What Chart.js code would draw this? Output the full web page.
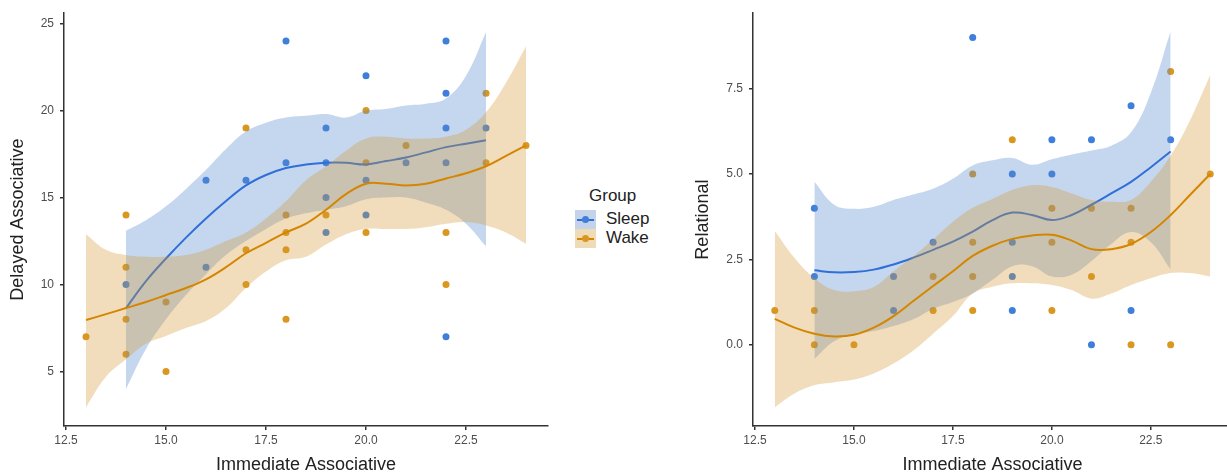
<!DOCTYPE html>
<html>
<head>
<meta charset="utf-8">
<script src="https://cdn.jsdelivr.net/npm/chart.js@4.4.1/dist/chart.umd.min.js"></script>
<style>
  html, body { margin: 0; padding: 0; background: #fff; overflow: hidden; }
  body { width: 1227px; height: 474px; position: relative; font-family: "Liberation Sans", Arial, sans-serif; }
  canvas { position: absolute; top: 0; }
  #left { left: 0; }
  #right { left: 680px; }
  .legend { position: absolute; left: 575px; top: 186px; color: #222; }
  .legend .title { font-size: 17px; margin-left: 14px; height: 24px; }
  .legend .row { position: relative; height: 19px; }
  .legend .key { position: absolute; left: 0; top: 0; width: 21px; height: 19px; }
  .legend .key .ln { position: absolute; left: 2px; right: 2px; top: 8.5px; height: 2px; }
  .legend .key .dot { position: absolute; left: 7px; top: 6px; width: 7px; height: 7px; border-radius: 50%; }
  .legend .lbl { position: absolute; left: 31px; top: -1px; font-size: 17px; line-height: 20px; }
</style>
</head>
<body>
<canvas id="left" width="560" height="474"></canvas>
<canvas id="right" width="556" height="474"></canvas>
<div class="legend">
  <div class="title">Group</div>
  <div class="row"><div class="key" style="background:#c4d3ea"><div class="ln" style="background:#2f6fd8"></div><div class="dot" style="background:#3f7fdb"></div></div><span class="lbl">Sleep</span></div>
  <div class="row"><div class="key" style="background:#efdcb7"><div class="ln" style="background:#d48600"></div><div class="dot" style="background:#d99720"></div></div><span class="lbl">Wake</span></div>
</div>
<script>
// raw points
const sleepImmL = [14, 16, 16, 17, 18, 18, 19, 19, 19, 19, 20, 20, 20, 21, 22, 22, 22, 22, 22, 23];
const sleepDelL = [10, 16, 11, 16, 24, 17, 19, 17, 15, 13, 22, 16, 14, 17, 24, 21, 19, 17, 7, 19];
const wakeImmL = [13, 14, 14, 14, 14, 15, 15, 17, 17, 17, 18, 18, 18, 18, 19, 20, 20, 20, 21, 22, 22, 23, 23, 24];
const wakeDelL = [7, 14, 11, 8, 6, 9, 5, 19, 12, 10, 14, 13, 12, 8, 14, 20, 17, 13, 18, 13, 10, 21, 17, 18];

const sleepImmR = [14, 14, 16, 16, 17, 18, 19, 19, 19, 19, 20, 20, 21, 21, 22, 22, 23];
const sleepRelR = [4, 2, 2, 1, 3, 9, 5, 3, 2, 1, 6, 5, 6, 0, 7, 1, 6];
const wakeImmR = [13, 14, 14, 15, 17, 17, 18, 18, 18, 18, 19, 20, 20, 20, 21, 21, 22, 22, 22, 23, 23, 24];
const wakeRelR = [1, 1, 0, 0, 2, 1, 5, 3, 2, 1, 6, 4, 3, 1, 4, 2, 4, 3, 0, 8, 0, 5];

// loess fits + 95% bands, sampled on a half-unit grid
const gridSleep = [14, 14.5, 15, 15.5, 16, 16.5, 17, 17.5, 18, 18.5, 19, 19.5, 20, 20.5, 21, 21.5, 22, 22.5, 23];
const gridWake = [13, 13.5, 14, 14.5, 15, 15.5, 16, 16.5, 17, 17.5, 18, 18.5, 19, 19.5, 20, 20.5, 21, 21.5, 22, 22.5, 23, 23.5, 24];

const sleepFitL = [8.65, 10.2, 11.5, 12.7, 13.8, 14.8, 15.7, 16.3, 16.7, 16.9, 17.0, 17.0, 16.9, 17.1, 17.3, 17.6, 17.9, 18.1, 18.3];
const sleepLoL = [4.0, 6.3, 8.0, 9.4, 10.6, 11.7, 12.5, 13.2, 13.8, 14.1, 14.3, 14.5, 14.9, 15.0, 15.0, 14.7, 14.3, 13.5, 12.2];
const sleepHiL = [13.1, 13.7, 14.5, 15.5, 16.6, 17.8, 18.8, 19.3, 19.6, 19.7, 19.8, 19.6, 20.0, 20.1, 20.3, 20.4, 20.7, 22.0, 24.5];
const wakeFitL = [7.96, 8.3, 8.65, 9.0, 9.4, 9.8, 10.3, 11.0, 11.8, 12.4, 13.0, 13.5, 14.3, 15.2, 15.8, 15.8, 15.7, 15.8, 16.1, 16.4, 16.8, 17.4, 18.0];
const wakeLoL = [2.95, 4.7, 5.7, 6.6, 7.05, 7.5, 7.9, 8.65, 9.8, 10.75, 11.4, 11.6, 12.3, 12.9, 13.2, 13.2, 13.2, 13.3, 13.5, 13.6, 13.4, 13.0, 12.35];
const wakeHiL = [12.9, 12.0, 11.7, 11.6, 11.6, 11.7, 12.0, 12.5, 13.0, 13.8, 14.8, 16.0, 16.8, 17.7, 18.4, 18.5, 18.4, 18.4, 18.5, 18.9, 19.9, 21.6, 23.7];

const sleepFitR = [2.18, 2.12, 2.13, 2.2, 2.35, 2.55, 2.78, 3.02, 3.31, 3.65, 3.87, 3.8, 3.65, 3.8, 4.1, 4.43, 4.77, 5.2, 5.66];
const sleepLoR = [-0.42, 0.1, 0.3, 0.4, 0.55, 0.75, 1.05, 1.25, 1.5, 1.9, 2.3, 2.3, 2.0, 2.05, 2.45, 2.95, 3.3, 3.0, 2.2];
const sleepHiR = [4.77, 4.1, 3.98, 4.04, 4.24, 4.4, 4.57, 4.86, 5.25, 5.4, 5.47, 5.27, 5.43, 5.57, 5.69, 5.83, 6.22, 7.38, 9.18];
const wakeFitR = [0.76, 0.5, 0.32, 0.24, 0.29, 0.5, 0.84, 1.28, 1.72, 2.15, 2.6, 2.9, 3.1, 3.2, 3.22, 3.05, 2.8, 2.8, 2.95, 3.3, 3.8, 4.4, 5.0];
const wakeLoR = [-1.83, -1.43, -1.19, -1.1, -1.02, -0.84, -0.55, -0.17, 0.32, 0.84, 1.5, 1.7, 1.8, 1.8, 1.75, 1.6, 1.35, 1.5, 1.75, 1.95, 2.1, 2.1, 2.0];
const wakeHiR = [3.33, 2.54, 1.95, 1.6, 1.57, 1.69, 2.15, 2.59, 3.08, 3.6, 4.01, 4.27, 4.53, 4.67, 4.62, 4.43, 4.24, 4.19, 4.24, 4.77, 5.54, 6.6, 7.9];

const xTicks = [12.5, 15, 17.5, 20, 22.5];
const yTicksL = [5, 10, 15, 20, 25];
const yTicksR = [0, 2.5, 5, 7.5];

const SLEEP = { pt: '#3f7fdb', line: '#2f6fd8', band: 'rgba(88,138,208,0.35)' };
const WAKE = { pt: '#d99720', line: '#d48600', band: 'rgba(214,152,48,0.33)' };
const AXIS = '#333333';
const TICK_TEXT = '#4d4d4d';

const pts = (xs, ys) => xs.map((x, i) => ({ x, y: ys[i] }));

function panelDatasets(p) {
  // higher order = drawn first (underneath), like ggplot layer order
  return [
    { data: pts(p.sImm, p.sVal), showLine: false, pointRadius: 3.5, pointBorderWidth: 0,
      pointBackgroundColor: SLEEP.pt, order: 10 },
    { data: pts(p.wImm, p.wVal), showLine: false, pointRadius: 3.5, pointBorderWidth: 0,
      pointBackgroundColor: WAKE.pt, order: 9 },
    { data: pts(gridSleep, p.sLo), pointRadius: 0, borderWidth: 0, borderColor: 'transparent',
      fill: false, tension: 0.4, order: 8 },
    { data: pts(gridSleep, p.sHi), pointRadius: 0, borderWidth: 0, borderColor: 'transparent',
      backgroundColor: SLEEP.band, fill: '-1', tension: 0.4, order: 7 },
    { data: pts(gridSleep, p.sFit), pointRadius: 0, borderWidth: 2, borderColor: SLEEP.line,
      fill: false, tension: 0.4, order: 6 },
    { data: pts(gridWake, p.wLo), pointRadius: 0, borderWidth: 0, borderColor: 'transparent',
      fill: false, tension: 0.4, order: 5 },
    { data: pts(gridWake, p.wHi), pointRadius: 0, borderWidth: 0, borderColor: 'transparent',
      backgroundColor: WAKE.band, fill: '-1', tension: 0.4, order: 4 },
    { data: pts(gridWake, p.wFit), pointRadius: 0, borderWidth: 2, borderColor: WAKE.line,
      fill: false, tension: 0.4, order: 3 }
  ];
}

function makeChart(id, p) {
  return new Chart(document.getElementById(id), {
    type: 'line',
    data: { datasets: panelDatasets(p) },
    options: {
      responsive: false,
      animation: false,
      devicePixelRatio: 1,
      layout: { padding: { top: 10, right: p.padRight, left: 0, bottom: 0 } },
      plugins: { legend: { display: false }, tooltip: { enabled: false } },
      scales: {
        x: {
          type: 'linear', min: 12.45, max: 24.55,
          afterBuildTicks: s => { s.ticks = xTicks.map(v => ({ value: v })); },
          afterFit: s => { s.height = 48; },
          border: { display: true, color: AXIS, width: 1.5 },
          grid: { drawOnChartArea: false, drawTicks: true, tickLength: 4, color: AXIS, lineWidth: 1.5 },
          ticks: { color: TICK_TEXT, font: { family: 'Liberation Sans', size: 12 }, padding: 3,
                   maxRotation: 0, callback: v => v.toFixed(1) },
          title: { display: true, text: 'Immediate Associative', color: '#222',
                   font: { family: 'Liberation Sans', size: 18, lineHeight: 1 }, padding: { top: 0, bottom: 0 } }
        },
        y: {
          type: 'linear', min: p.yMin, max: p.yMax,
          afterBuildTicks: s => { s.ticks = p.yTicks.map(v => ({ value: v })); },
          afterFit: s => { s.width = p.yWidth; },
          border: { display: true, color: AXIS, width: 1.5 },
          grid: { drawOnChartArea: false, drawTicks: true, tickLength: 4, color: AXIS, lineWidth: 1.5 },
          ticks: { color: TICK_TEXT, font: { family: 'Liberation Sans', size: 12 }, padding: 6,
                   callback: p.yFmt },
          title: { display: true, text: p.yTitle, color: '#222',
                   font: { family: 'Liberation Sans', size: 18, lineHeight: 1 }, padding: { top: p.yTitlePad, bottom: 0 } }
        }
      }
    }
  });
}

makeChart('left', {
  sImm: sleepImmL, sVal: sleepDelL, wImm: wakeImmL, wVal: wakeDelL,
  sFit: sleepFitL, sLo: sleepLoL, sHi: sleepHiL,
  wFit: wakeFitL, wLo: wakeLoL, wHi: wakeHiL,
  yMin: 1.87, yMax: 25.6, yTicks: yTicksL, yFmt: v => String(v),
  yTitle: 'Delayed Associative', yWidth: 64, yTitlePad: 9, padRight: 12
});

makeChart('right', {
  sImm: sleepImmR, sVal: sleepRelR, wImm: wakeImmR, wVal: wakeRelR,
  sFit: sleepFitR, sLo: sleepLoR, sHi: sleepHiR,
  wFit: wakeFitR, wLo: wakeLoR, wHi: wakeHiR,
  yMin: -2.38, yMax: 9.71, yTicks: yTicksR, yFmt: v => v.toFixed(1),
  yTitle: 'Relational', yWidth: 73, yTitlePad: 14, padRight: 0
});
</script>
</body>
</html>
